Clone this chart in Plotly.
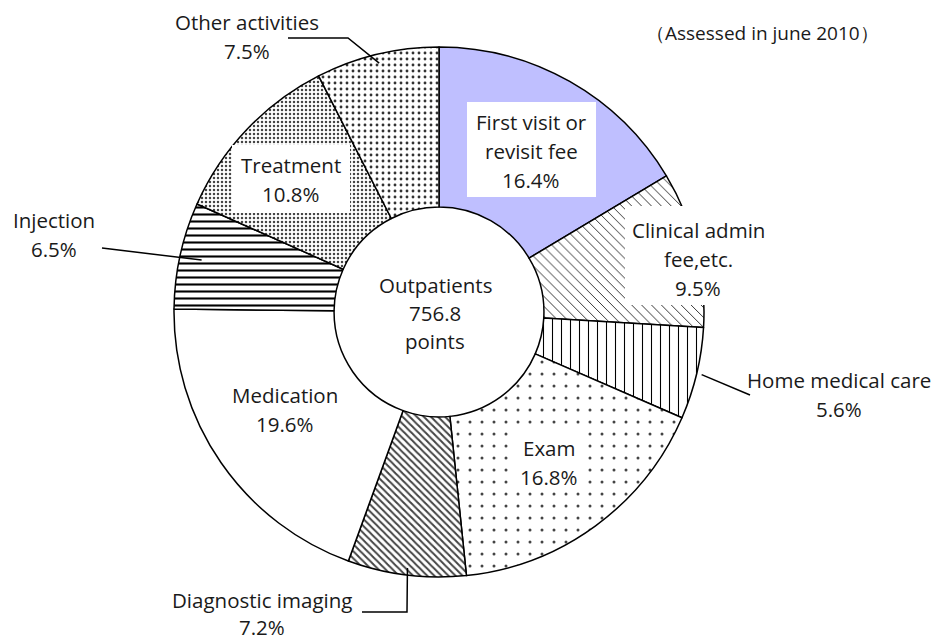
import math
import plotly.graph_objects as go

# data
categories = ["First visit or revisit fee", "Clinical admin fee,etc.", "Home medical care",
              "Exam", "Diagnostic imaging", "Medication", "Injection", "Treatment",
              "Other activities"]
shares = [16.4, 9.5, 5.6, 16.8, 7.2, 19.6, 6.5, 10.8, 7.5]
center_text = ["Outpatients", "756.8", "points"]
note_text = "（Assessed in june 2010）"

# the page body adds an 8px margin, so the figure starts at (8, 8) on screen
OX, OY = 8, 8
FW, FH = 931, 633
CX, CY, R = 439, 312, 265
HOLE = 0.396
FONT = "'Open Sans', Lato, sans-serif"
FONT_SIZE = 20.5
LINE_GAP = 29

# slice styles (same order as categories)
fill = ["#BFBFFF", "white", "white", "white", "white", "white", "white", "white", "white"]
pat_shape = ["", "\\", "|", ".", "\\", "", "-", ".", "."]
pat_size = [8, 7, 9, 12, 5, 8, 7, 4, 6]
pat_solid = [0.2, 0.14, 0.12, 0.05, 0.4, 0.2, 0.3, 0.3, 0.18]
pat_fg = ["black", "#333333", "black", "#444444", "#444444", "black", "black", "#444444", "#333333"]

# label placement in screen pixels: (center x, first line y), optional white box (x0, y0, x1, y1)
labels = {
    "First visit or revisit fee": dict(x=531, y=122, lines=["First visit or", "revisit fee"],
                                       box=(467, 102, 596, 197)),
    "Clinical admin fee,etc.": dict(x=698, y=230, lines=["Clinical admin", "fee,etc."],
                                    box=(625, 206, 770, 305)),
    "Home medical care": dict(x=839, y=380, lines=["Home medical care"],
                              leader=[(750, 395)]),
    "Exam": dict(x=549, y=448, lines=["Exam"], box=(510, 428, 588, 488)),
    "Diagnostic imaging": dict(x=262, y=600, lines=["Diagnostic imaging"],
                               leader=[(407, 612), (362, 612)], gap=27),
    "Medication": dict(x=285, y=395, lines=["Medication"]),
    "Injection": dict(x=54, y=220, lines=["Injection"], leader=[(102, 248)]),
    "Treatment": dict(x=291, y=165, lines=["Treatment"], box=(232, 145, 350, 213)),
    "Other activities": dict(x=247, y=22, lines=["Other activities"],
                             leader=[(348, 38), (288, 38)]),
}
leader_r = {"Home medical care": 270, "Diagnostic imaging": 258, "Injection": 243,
            "Other activities": 256}


def px(x, y):
    return (x - OX) / FW, 1 - (y - OY) / FH


def polar(angle, r):
    a = math.radians(angle)
    return CX + r * math.sin(a), CY - r * math.cos(a)


def text_line(x, y, text, size=FONT_SIZE):
    xp, yp = px(x, y)
    return dict(x=xp, y=yp, xref="paper", yref="paper", text=text, showarrow=False,
                xanchor="center", yanchor="middle",
                font=dict(family=FONT, size=size, color="#1a1a1a"))


dx0, dy0 = px(CX - R, CY + R)
dx1, dy1 = px(CX + R, CY - R)

fig = go.Figure(go.Pie(
    labels=categories,
    values=shares,
    sort=False,
    direction="clockwise",
    rotation=0,
    hole=HOLE,
    textinfo="none",
    hoverinfo="label+percent",
    domain=dict(x=[dx0, dx1], y=[dy0, dy1]),
    marker=dict(
        colors=fill,
        line=dict(color="black", width=1.5),
        pattern=dict(shape=pat_shape, size=pat_size, solidity=pat_solid,
                     fgcolor=pat_fg, bgcolor=fill, fillmode="replace"),
    ),
))

total = sum(shares)
shapes = []
annotations = []
start = 0.0
for cat, val in zip(categories, shares):
    mid = (start + val / 2) / total * 360
    start += val
    lab = labels[cat]
    if "box" in lab:
        x0, y0, x1, y1 = lab["box"]
        a0, b0 = px(x0, y1)
        a1, b1 = px(x1, y0)
        shapes.append(dict(type="rect", xref="paper", yref="paper", x0=a0, y0=b0, x1=a1, y1=b1,
                           fillcolor="white", line=dict(width=0), layer="above"))
    if "leader" in lab:
        pts = [polar(mid, leader_r[cat])] + lab["leader"]
        path = "M " + " L ".join(f"{px(x, y)[0]},{px(x, y)[1]}" for x, y in pts)
        shapes.append(dict(type="path", xref="paper", yref="paper", path=path,
                           line=dict(color="black", width=1.5), layer="above"))
    rows = lab["lines"] + [f"{val:.1f}%"]
    gap = lab.get("gap", LINE_GAP)
    for i, row in enumerate(rows):
        annotations.append(text_line(lab["x"], lab["y"] + i * gap, row))

for i, row in enumerate(center_text):
    annotations.append(text_line(CX - 4, CY - 27 + i * 28, row))

annotations.append(text_line(762, 33, note_text, size=19))

fig.update_layout(
    width=FW, height=FH,
    margin=dict(l=0, r=0, t=0, b=0),
    paper_bgcolor="white",
    plot_bgcolor="white",
    showlegend=False,
    shapes=shapes,
    annotations=annotations,
)

fig.write_html("out.html")
